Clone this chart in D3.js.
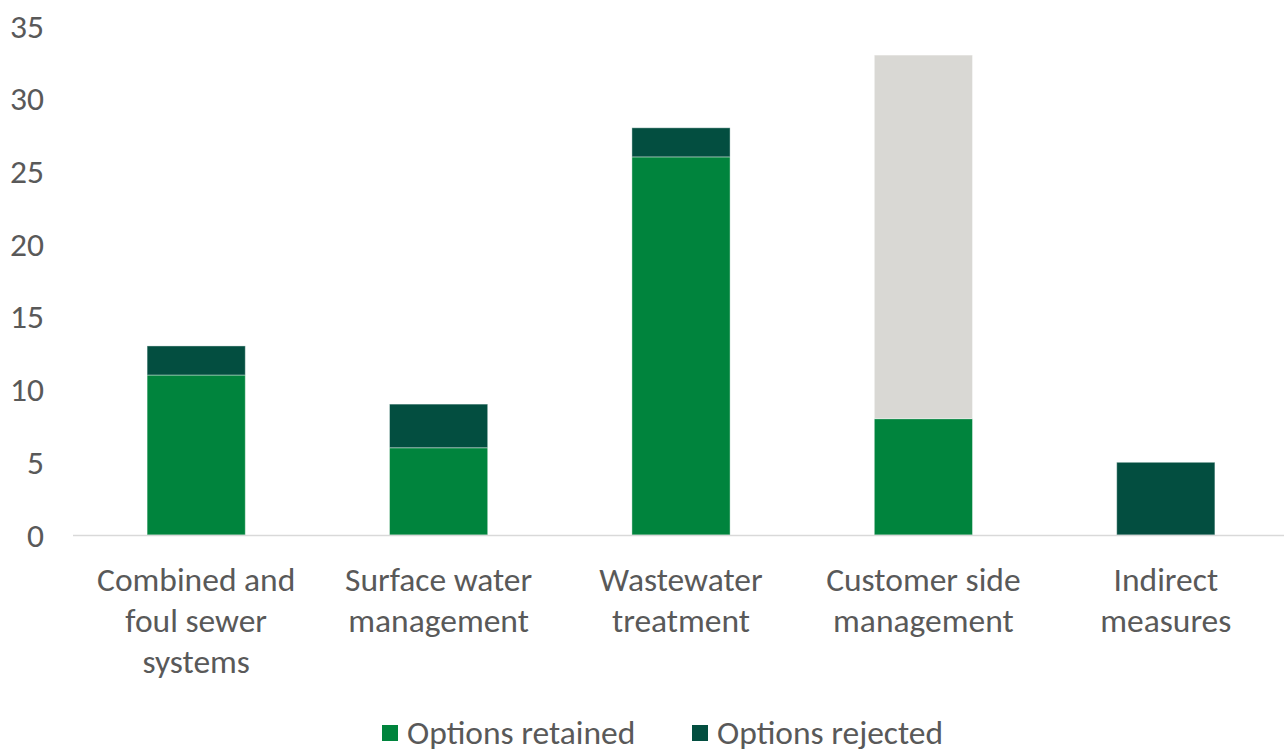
<!DOCTYPE html>
<html><head><meta charset="utf-8">
<script src="https://cdn.jsdelivr.net/npm/d3@7"></script>
<style>body{margin:0;background:#fff}svg{display:block}</style>
</head><body>
<svg id="c" width="1284" height="753"></svg>
<script>
const categories = [["Combined and","foul sewer","systems"],["Surface water","management"],["Wastewater","treatment"],["Customer side","management"],["Indirect","measures"]];
const retained = [11, 6, 26, 8, 0];
const rejected = [2, 3, 2, 0, 5];
const other = [0, 0, 0, 25, 0];
const yTicks = [0,5,10,15,20,25,30,35];
const seriesNames = ["Options retained","Options rejected"];

const colors = {retained:"#00843D", rejected:"#034E40", other:"#D9D8D4"};
const font = "Calibri, Carlito, 'Open Sans', sans-serif";
const fs = 33.5;
const svg = d3.select("#c");
const x = d3.scaleBand().domain(d3.range(categories.length)).range([75,1287]).paddingInner(0).paddingOuter(0);
const y = d3.scaleLinear().domain([0,35]).range([535,26]);
const bw = x.bandwidth()*0.405;

const data = categories.map((c,i)=>({i, retained:retained[i], rejected:rejected[i], other:other[i]}));
const stack = d3.stack().keys(["retained","rejected","other"])(data);
svg.append("g").selectAll("g").data(stack).join("g").attr("fill",d=>colors[d.key])
  .selectAll("rect").data(d=>d.filter(p=>p[1]-p[0]>0)).join("rect")
  .attr("x",d=>x(d.data.i)+x.bandwidth()/2-bw/2).attr("width",bw)
  .attr("y",d=>y(d[1])).attr("height",d=>y(d[0])-y(d[1]))
  .attr("stroke","#ffffff").attr("stroke-opacity",0.4).attr("stroke-width",1);

svg.append("line").attr("x1",73).attr("x2",1284).attr("y1",y(0)+0.5).attr("y2",y(0)+0.5).attr("stroke","#d9d9d9").attr("stroke-width",1.5);

const ya = d3.axisLeft(y).tickValues(yTicks).tickSize(0).tickPadding(0);
const yg = svg.append("g").attr("transform","translate(44,0)").call(ya);
yg.select(".domain").remove();
yg.selectAll("text").attr("font-family",font).attr("font-size",fs).attr("fill","#595959").attr("dy","0.33em");

const lab = svg.append("g");
categories.forEach((lines,i)=>{
  const t = lab.append("text").attr("text-anchor","middle").attr("font-family",font).attr("font-size",fs).attr("fill","#595959");
  lines.forEach((l,j)=>t.append("tspan").attr("x",x(i)+x.bandwidth()/2).attr("y",591+j*41).text(l));
});

const leg = svg.append("g");
const legX = [382, 692];
seriesNames.forEach((n,i)=>{
  leg.append("rect").attr("x",legX[i]).attr("y",725).attr("width",16).attr("height",16).attr("fill",i?colors.rejected:colors.retained);
  leg.append("text").attr("x",legX[i]+25).attr("y",744).attr("font-family",font).attr("font-size",fs).attr("fill","#595959").text(n);
});
</script>
</body></html>
